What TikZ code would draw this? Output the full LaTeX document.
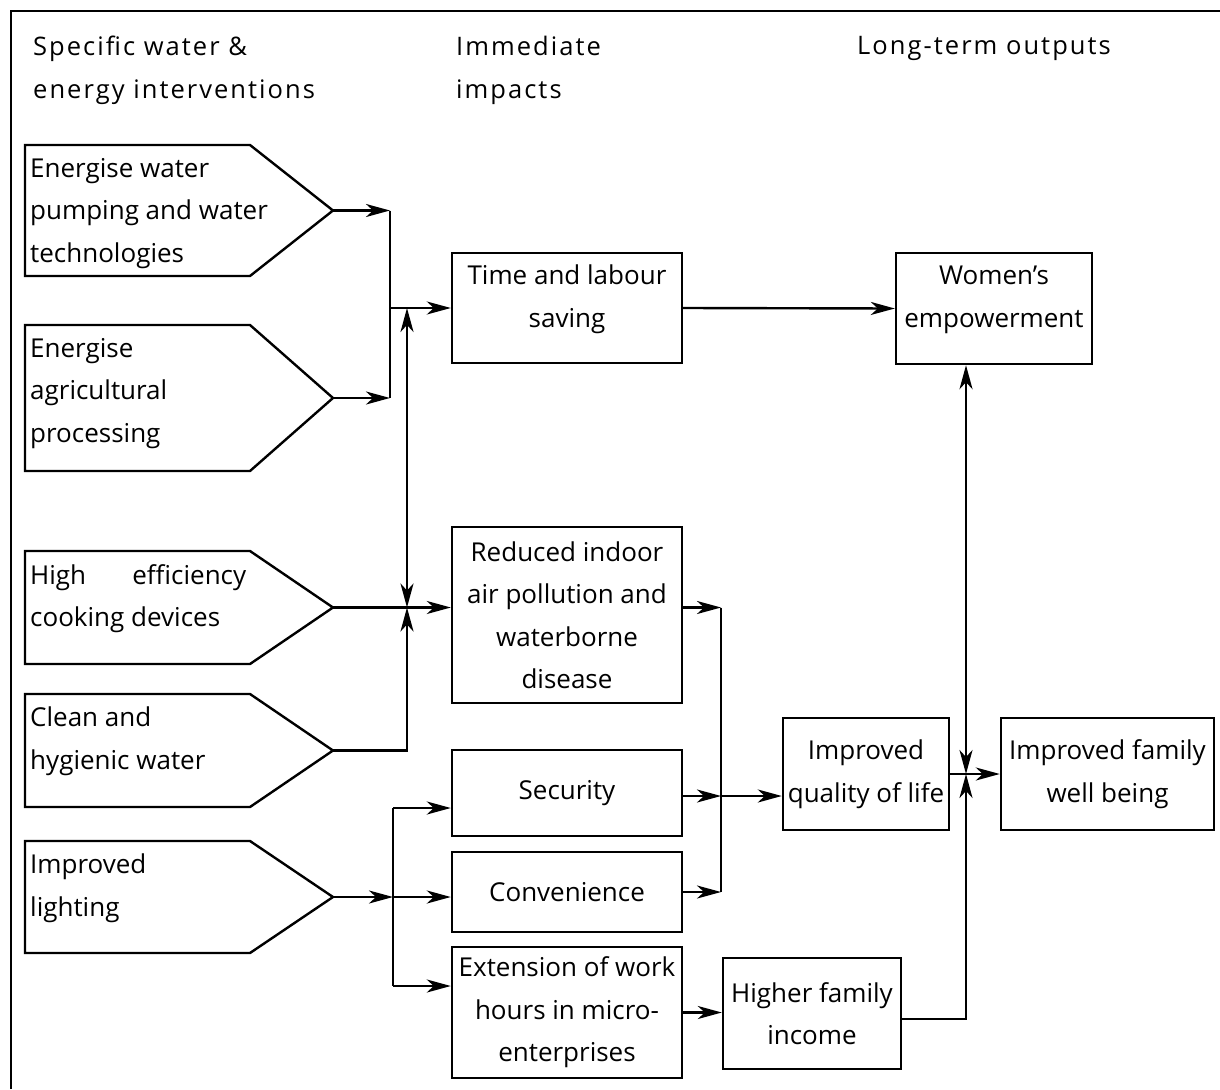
\documentclass[tikz,border=0pt]{standalone}
\usepackage{fontspec}
\setmainfont{Open Sans}
\newfontfamily\hdrfont[LetterSpace=8]{Open Sans}
\usetikzlibrary{arrows.meta}
\newcommand\pent[4]{%
  \draw[ln] (25,#2) -- (250,#2) -- (333,{(#2+#3)/2}) -- (250,#3) -- (25,#3) -- cycle;
  \coordinate (#1) at (333,{(#2+#3)/2});
  \node[ptext] (#1t) at (30,#2+13) {#4};
}
\begin{document}
\begin{tikzpicture}[x=1pt,y=-1pt,
  every node/.style={font=\fontsize{26}{42.5}\selectfont},
  ln/.style={line width=2.4pt},
  arr/.style={ln,-{Stealth[length=24pt,width=13pt,inset=7pt]}},
  darr/.style={ln,{Stealth[length=24pt,width=13pt,inset=7pt]}-{Stealth[length=24pt,width=13pt,inset=7pt]}},
  box/.style={draw,ln,rectangle,inner sep=0pt,align=center},
  txt/.style={inner sep=0pt,align=center},
  ptext/.style={anchor=north west,inner sep=0pt,align=left},
  hdr/.style={anchor=north west,inner sep=0pt,align=left,font=\hdrfont\fontsize{25.5}{42.5}\selectfont}]
\useasboundingbox (0,0) rectangle (1220,1089);
\draw[ln] (11,1089) -- (11,11) -- (1220,11);
% headers
\node[hdr] (h1) at (33,36) {Specific water \&\\energy interventions};
\node[hdr] (h2) at (456,36) {Immediate\\impacts};
\node[hdr] (h3) at (857,36) {Long-term outputs};
% interventions
\pent{p1}{145}{276}{Energise water\\pumping and water\\technologies}
\pent{p2}{325}{471}{Energise\\agricultural\\processing}
\pent{p3}{551}{664}{\makebox[216pt][s]{High efficiency}\\cooking devices}
\pent{p4}{694}{807}{Clean and\\hygienic water}
\pent{p5}{841}{953}{Improved\\lighting}
% boxes
\node[box,minimum width=230pt,minimum height=110pt] (time) at (567,308) {};
\node[txt] (timet) at (567,299) {Time and labour\\saving};
\node[box,minimum width=230pt,minimum height=176pt] (red) at (567,615) {Reduced indoor\\air pollution and\\waterborne\\disease};
\node[box,minimum width=230pt,minimum height=86pt] (sec) at (567,793) {Security};
\node[box,minimum width=230pt,minimum height=80pt] (conv) at (567,892) {Convenience};
\node[box,minimum width=230pt,minimum height=131pt] (ext) at (567,1012.5) {Extension of work\\hours in micro-\\enterprises};
\node[box,minimum width=178pt,minimum height=111pt] (inc) at (812,1013.5) {Higher family\\income};
\node[box,minimum width=166pt,minimum height=112pt] (qual) at (866,774) {Improved\\quality of life};
\node[box,minimum width=213pt,minimum height=112pt] (well) at (1107.5,774) {Improved family\\well being};
\node[box,minimum width=196pt,minimum height=111pt] (wom) at (994,308.5) {};
\node[txt] (womt) at (994,300) {Women’s\\empowerment};
% connectors: water / agriculture
\coordinate (j1) at (390,210.5);
\coordinate (j2) at (390,398);
\coordinate (j3) at (390,308);
\draw[arr] (p1) -- (j1);
\draw[arr] (p2) -- (j2);
\draw[ln] (j1) -- (j2);
\draw[arr] (j3) -- (time.west);
% cooking / clean water
\coordinate (k1) at (407,308);
\coordinate (k2) at (407,607.5);
\draw[darr] (k2) -- (k1);
\draw[arr] (p4) -| (k2);
\draw[arr] (p3) -- (p3 -| red.west);
% lighting
\coordinate (n1) at (393,808);
\coordinate (n2) at (393,897);
\coordinate (n3) at (393,986);
\draw[arr] (p5) -- (n2);
\draw[ln] (n1) -- (n3);
\draw[arr] (n1) -- (n1 -| sec.west);
\draw[arr] (n2) -- (n2 -| conv.west);
\draw[arr] (n3) -- (n3 -| ext.west);
% merge to quality of life
\coordinate (m1) at (721,607.5);
\coordinate (m2) at (721,796);
\coordinate (m3) at (721,892);
\draw[arr] (m1 -| red.east) -- (m1);
\draw[arr] (m2 -| sec.east) -- (m2);
\draw[arr] (conv.east) -- (m3);
\draw[ln] (m1) -- (m3);
\draw[arr] (m2) -- (m2 -| qual.west);
% income and well being
\coordinate (q1) at (966,774);
\draw[arr] (ext.east) -- (ext.east -| inc.west);
\draw[arr] ([yshift=-5.5pt]inc.east) -| (q1);
\draw[arr] (qual.east) -- (well.west);
\draw[darr] (wom.south -| q1) -- (q1);
\draw[arr] (time.east) -- (wom.west);
\end{tikzpicture}
\end{document}
